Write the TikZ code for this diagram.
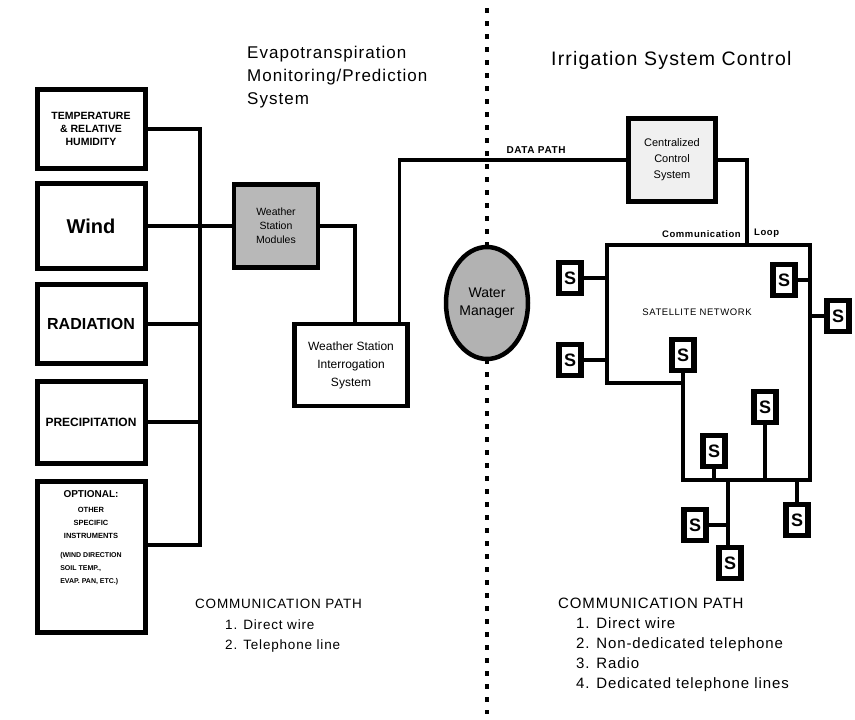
\documentclass[tikz,border=0pt]{standalone}
\usepackage{fontspec}
\setmainfont{Liberation Sans}
\newfontfamily\widefont[LetterSpace=6]{Liberation Sans}
\usetikzlibrary{positioning,shapes.geometric,calc}
\tikzset{
  sensor/.style={draw, line width=5pt, minimum width=108pt, align=center, font=\bfseries},
  panel/.style={draw, line width=4.5pt, align=center, inner sep=2pt},
  gpanel/.style={panel, fill=black!28},
  sbox/.style={draw, fill=white, line width=5.5pt, minimum width=22pt, minimum height=31pt, inner sep=0pt, font=\bfseries\fontsize{18}{18}\selectfont},
  wire/.style={line width=3.4pt, line cap=rect},
  divider/.style={line width=3.2pt, dash pattern=on 5pt off 8pt},
  lbl/.style={font=\widefont\fontsize{10}{12}\selectfont, inner sep=1pt},
  title/.style={font=\widefont\fontsize{17}{23}\selectfont, align=left, inner sep=0pt},
  legend/.style={font=\widefont\fontsize{13.5}{22}\selectfont, align=left, inner sep=0pt},
}
\begin{document}
\begin{tikzpicture}[x=1pt, y=-1pt]
  \useasboundingbox[fill=white] (0,0) rectangle (855,720);
  % dividing line between the two systems
  \coordinate (divtop) at (487,8);
  \coordinate (divbot) at (487,714);
  \draw[divider] (divtop) -- (divbot);
  % --- evapotranspiration side ---
  \node[sensor, minimum height=79pt, font=\bfseries\fontsize{10.5}{13}\selectfont] (temp) at (91,129) {TEMPERATURE\\\& RELATIVE\\HUMIDITY};
  \node[sensor, minimum height=85pt, font=\bfseries\fontsize{20}{22}\selectfont] (wind) at (91,226) {Wind};
  \node[sensor, minimum height=79pt, font=\bfseries\fontsize{16}{18}\selectfont] (rad) at (91,324) {RADIATION};
  \node[sensor, minimum height=82pt, font=\bfseries\fontsize{12}{14}\selectfont] (prec) at (91,422) {PRECIPITATION};
  \node[sensor, minimum height=151pt] (opt) at (91,557) {};
  \node[font=\bfseries\fontsize{10}{12}\selectfont, below=8pt of opt.north] (optttl) {OPTIONAL:};
  \node[font=\bfseries\fontsize{7.5}{13}\selectfont, align=center, below=3pt of optttl] (optlist) {OTHER\\SPECIFIC\\INSTRUMENTS};
  \node[font=\bfseries\fontsize{7}{13}\selectfont, align=left, below=6pt of optlist] (optex) {(WIND DIRECTION\\SOIL TEMP.,\\EVAP. PAN, ETC.)};
  \coordinate (busN) at (200,129);
  \coordinate (busS) at (200,545);
  \coordinate (optout) at (148,545);
  \draw[wire] (busN) -- (busS);
  \foreach \s in {temp,wind,rad,prec} \draw[wire] (\s.east) -- (\s.east -| busN);
  \draw[wire] (optout) -- (busS);
  \node[gpanel, minimum width=84pt, minimum height=83pt, font=\fontsize{10.5}{14}\selectfont] (wsm) at (276,226) {Weather\\Station\\Modules};
  \draw[wire] (wsm.west) -- (wsm.west -| busN);
  \node[panel, minimum width=113pt, minimum height=82pt, font=\fontsize{12}{18}\selectfont] (wsi) at (351,365) {Weather Station\\Interrogation\\System};
  \draw[wire] (wsm.east) -| ([xshift=4pt]wsi.north);
  \node[title, anchor=north west] (ettl) at (247,46) {Evapotranspiration\\Monitoring/Prediction\\System};
  % --- irrigation side ---
  \node[title, anchor=west, font=\widefont\fontsize{19.5}{22}\selectfont] (ittl) at (551,60) {Irrigation System Control};
  \node[panel, fill=black!6, minimum width=87pt, minimum height=83pt, font=\fontsize{11}{16}\selectfont] (ccs) at (672,160) {Centralized\\Control\\System};
  \draw[wire] ([xshift=-10pt]wsi.north east) |- (ccs.west);
  \node[lbl, font=\widefont\bfseries\fontsize{10}{12}\selectfont] (dpath) at (536,150) {DATA PATH};
  \node[ellipse, draw, line width=4.5pt, fill=black!30, minimum width=82pt, minimum height=112pt, inner sep=0pt, align=center, font=\fontsize{14}{18}\selectfont] (wman) at (487,303) {Water\\Manager};
  % communication loop / satellite network
  \coordinate (nw) at (607,245);
  \coordinate (ne) at (810,245);
  \coordinate (loopin) at (747,245);
  \coordinate (sj) at (683,383);
  \coordinate (sw) at (607,383);
  \coordinate (bj) at (683,480);
  \coordinate (se) at (810,480);
  \coordinate (tj) at (728,480);
  \draw[wire, line join=miter] (sj) -- (sw) -- (nw) -- (ne) -- (se) -- (bj) -- cycle;
  \draw[wire] (ccs.east) -| (loopin);
  \node[lbl, font=\widefont\bfseries\fontsize{9.5}{11}\selectfont, anchor=south east] (cmtxt) at (742,239) {Communication};
  \node[lbl, font=\widefont\bfseries\fontsize{9.5}{11}\selectfont, anchor=south west] (lptxt) at (753,239) {Loop};
  \node[lbl, font=\widefont\fontsize{9.5}{11}\selectfont] (satnet) at (697,312) {SATELLITE NETWORK};
  \node[sbox] (s1) at (570,278) {S};
  \node[sbox] (s2) at (570,360) {S};
  \node[sbox] (s3) at (784,280) {S};
  \node[sbox] (s4) at (838,316) {S};
  \node[sbox] (s5) at (683,355) {S};
  \node[sbox] (s6) at (765,407) {S};
  \node[sbox] (s7) at (714,451) {S};
  \node[sbox] (s8) at (695,525) {S};
  \node[sbox] (s9) at (730,563) {S};
  \node[sbox] (s10) at (797,520) {S};
  \foreach \s in {s1,s2} \draw[wire] (\s.east) -- (\s.east -| nw);
  \draw[wire] (s3.east) -- (s3.east -| ne);
  \draw[wire] (s4.west) -- (s4.west -| ne);
  \draw[wire] (s5.south) -- (sj);
  \foreach \s in {s6,s7,s10} \draw[wire] (\s) -- (\s |- bj);
  \draw[wire] (tj) -- (s9.north -| tj);
  \draw[wire] (s8.east) -- (s8.east -| tj);
  % legends
  \node[legend, anchor=north west] (lleg) at (195,599) {COMMUNICATION PATH\\[-1pt]
    \hspace*{30pt}1. Direct wire\\[-2pt]
    \hspace*{30pt}2. Telephone line};
  \node[legend, anchor=north west, font=\widefont\fontsize{15}{21}\selectfont] (rleg) at (558,598) {COMMUNICATION PATH\\[-1pt]
    \hspace*{18pt}1. Direct wire\\[-1pt]
    \hspace*{18pt}2. Non-dedicated telephone\\[-1pt]
    \hspace*{18pt}3. Radio\\[-1pt]
    \hspace*{18pt}4. Dedicated telephone lines};
\end{tikzpicture}
\end{document}
